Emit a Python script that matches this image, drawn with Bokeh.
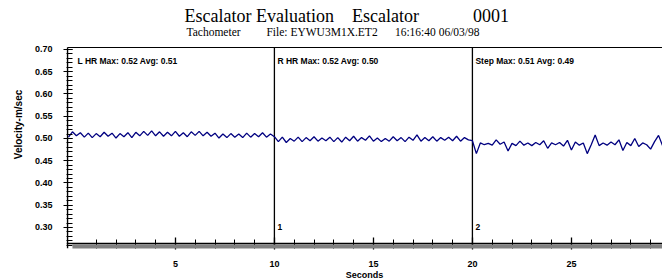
import numpy as np
from bokeh.plotting import figure
from bokeh.models import (Span, Label, FixedTicker, NumeralTickFormatter,
                          ColumnDataSource, GlobalInlineStyleSheet)
from bokeh.embed import file_html
from bokeh.resources import INLINE

# ---------------- data ----------------
sample_step = 0.2
lhr_start, rhr_start, step_start = -0.4, 10.2, 20.2

lhr_velocity = [0.503, 0.515, 0.506, 0.513, 0.503, 0.512, 0.502, 0.511, 0.504, 0.514,
                0.505, 0.512, 0.501, 0.511, 0.504, 0.513, 0.502, 0.514, 0.506, 0.516,
                0.507, 0.517, 0.506, 0.515, 0.505, 0.514, 0.506, 0.516, 0.505, 0.513,
                0.504, 0.515, 0.507, 0.516, 0.506, 0.514, 0.505, 0.512, 0.501, 0.510,
                0.502, 0.511, 0.503, 0.510, 0.502, 0.512, 0.503, 0.511, 0.504, 0.513,
                0.503, 0.510, 0.504]
rhr_velocity = [0.493, 0.503, 0.491, 0.500, 0.494, 0.503, 0.493, 0.502, 0.495, 0.504,
                0.494, 0.501, 0.495, 0.503, 0.493, 0.502, 0.492, 0.503, 0.495, 0.505,
                0.494, 0.502, 0.496, 0.506, 0.494, 0.501, 0.493, 0.500, 0.494, 0.504,
                0.495, 0.502, 0.493, 0.503, 0.496, 0.508, 0.494, 0.502, 0.495, 0.504,
                0.494, 0.502, 0.496, 0.503, 0.495, 0.505, 0.494, 0.502, 0.497, 0.495]
step_velocity = [0.466, 0.490, 0.486, 0.489, 0.485, 0.497, 0.487, 0.492, 0.472, 0.489,
                 0.484, 0.494, 0.485, 0.490, 0.484, 0.491, 0.486, 0.495, 0.478, 0.490,
                 0.486, 0.491, 0.483, 0.496, 0.474, 0.492, 0.485, 0.490, 0.466, 0.486,
                 0.508, 0.484, 0.490, 0.485, 0.492, 0.486, 0.497, 0.473, 0.491, 0.484,
                 0.500, 0.482, 0.490, 0.486, 0.476, 0.493, 0.507, 0.484]

section_marks = [10, 20]
section_names = ["1", "2"]
section_stats = ["L HR Max: 0.52 Avg: 0.51", "R HR Max: 0.52 Avg: 0.50", "Step Max: 0.51 Avg: 0.49"]

title_parts = ["Escalator Evaluation", "Escalator", "0001"]
subtitle_parts = ["Tachometer", "File: EYWU3M1X.ET2", "16:16:40 06/03/98"]

x_major = [5, 10, 15, 20, 25]
x_minor = list(range(1, 30))
y_major = [0.30, 0.35, 0.40, 0.45, 0.50, 0.55, 0.60, 0.65, 0.70]
y_minor = [round(0.26 + 0.01 * i, 2) for i in range(45)]

# --------------- build series ---------------
def times(start, n):
    return start + sample_step * np.arange(n)

t = np.concatenate([times(lhr_start, len(lhr_velocity)),
                    times(rhr_start, len(rhr_velocity)),
                    times(step_start, len(step_velocity))])
v = np.array(lhr_velocity + rhr_velocity + step_velocity)
src = ColumnDataSource(dict(t=t, v=v))

SANS = "Liberation Sans"
SERIF = "Liberation Serif"
NB = "\u00a0"

X_LO, X_HI = -0.5, 29.6        # frame x extent
AX_X = -0.45                   # plotted y-axis line
Y_LO, Y_TOP, Y_CANVAS = 0.2528, 0.7045, 0.8101   # frame bottom, plot box top, canvas top

p = figure(width=662, height=285, x_range=(X_LO, X_HI), y_range=(Y_LO, Y_CANVAS),
           output_backend="svg", toolbar_location=None,
           min_border_left=66, min_border_right=0, min_border_top=0, min_border_bottom=37)
p.stylesheets = [GlobalInlineStyleSheet(css="html, body { overflow: hidden; }")]
p.xgrid.visible = False
p.ygrid.visible = False
p.outline_line_color = None
p.background_fill_color = "white"
p.border_fill_color = "white"

# x axis
xa = p.xaxis[0]
xa.ticker = FixedTicker(ticks=x_major, minor_ticks=x_minor)
xa.axis_line_color = None
xa.major_tick_in = 11
xa.major_tick_out = 1
xa.minor_tick_in = 9
xa.minor_tick_out = 0
xa.major_tick_line_width = 1.3
xa.minor_tick_line_width = 1
xa.major_tick_line_color = "black"
xa.minor_tick_line_color = "black"
xa.major_label_text_font = SANS
xa.major_label_text_font_style = "bold"
xa.major_label_text_font_size = "9px"
xa.major_label_text_color = "black"
xa.major_label_standoff = 11
xa.axis_label = "Seconds"
xa.axis_label_text_font = SANS
xa.axis_label_text_font_style = "bold"
xa.axis_label_text_font_size = "9px"
xa.axis_label_text_color = "black"
xa.axis_label_standoff = 0

# y axis
ya = p.yaxis[0]
ya.ticker = FixedTicker(ticks=y_major, minor_ticks=y_minor)
ya.formatter = NumeralTickFormatter(format="0.00")
ya.axis_line_color = None
ya.major_tick_in = 6
ya.major_tick_out = 3
ya.minor_tick_in = 6
ya.minor_tick_out = 0
ya.major_tick_line_width = 1.2
ya.minor_tick_line_width = 1
ya.major_tick_line_color = "black"
ya.minor_tick_line_color = "black"
ya.major_label_text_font = SANS
ya.major_label_text_font_style = "bold"
ya.major_label_text_font_size = "9px"
ya.major_label_text_color = "black"
ya.major_label_standoff = 11
ya.axis_label = "Velocity-m/sec"
ya.axis_label_text_font = SANS
ya.axis_label_text_font_style = "bold"
ya.axis_label_text_font_size = "10px"
ya.axis_label_text_color = "black"
ya.axis_label_standoff = 8

# plot box: left axis line, top line, section separators
p.segment(x0=[AX_X], y0=[Y_LO], x1=[AX_X], y1=[Y_TOP], line_color="black", line_width=1.5)
p.segment(x0=[AX_X], y0=[Y_TOP], x1=[X_HI + 1], y1=[Y_TOP], line_color="black", line_width=1.2)
p.segment(x0=section_marks, y0=[Y_LO] * 2, x1=section_marks, y1=[Y_TOP] * 2,
          line_color="black", line_width=1.3)

# data line
p.line("t", "v", source=src, line_color="#000080", line_width=1.3)

# section labels
for m, name in zip(section_marks, section_names):
    p.add_layout(Label(x=m, y=0.2933, x_offset=3, text=name, text_font=SANS,
                       text_font_style="bold", text_font_size="8.5px", text_color="black"))

for xs, s, off in zip([AX_X] + section_marks, section_stats, [10, 3, 3]):
    p.add_layout(Label(x=xs, y=0.664, x_offset=off, text=s, text_font=SANS,
                       text_font_style="bold", text_font_size="8.5px", text_color="black"))

# titles (inside the tall frame, above the plot box)
title_text = title_parts[0] + NB * 4 + title_parts[1] + NB * 12 + title_parts[2]
sub_text = subtitle_parts[0] + NB * 9 + subtitle_parts[1] + NB * 6 + subtitle_parts[2]
p.add_layout(Label(x=AX_X, y=0.7517, x_offset=117, text=title_text, text_font=SERIF,
                   text_font_size="18px", text_color="black"))
p.add_layout(Label(x=AX_X, y=0.7248, x_offset=119, text=sub_text, text_font=SERIF,
                   text_font_size="11.5px", text_color="black"))

# bottom axis line with shadow band
p.quad(left=-0.2, right=X_HI + 1, bottom=Y_LO, top=0.2618, fill_color="#808080",
       line_color=None, level="overlay")
p.add_layout(Span(location=0.264, dimension="width", line_color="black", line_width=1.5,
                  level="overlay"))

open("out.html", "w").write(file_html(p, INLINE))
